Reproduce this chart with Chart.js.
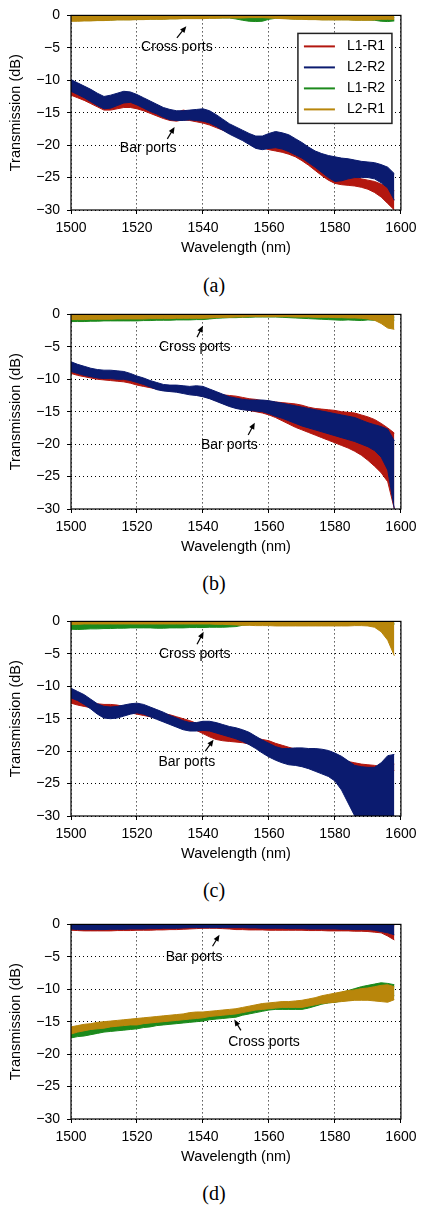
<!DOCTYPE html>
<html><head><meta charset="utf-8">
<script src="https://cdn.jsdelivr.net/npm/chart.js@4.4.1/dist/chart.umd.min.js"></script>
<style>
html,body{margin:0;padding:0;background:#fff}
body{width:422px;height:1205px;position:relative;overflow:hidden}
.pane{position:absolute;left:0;width:422px;height:260px}
.cap{position:absolute;left:0;width:428px;text-align:center;font-family:'Liberation Serif','Times New Roman',serif;font-size:20px;line-height:24px;color:#000}
</style></head><body>
<div class="pane" style="top:0px"><canvas id="ca" width="422" height="260"></canvas></div>
<div class="pane" style="top:299px"><canvas id="cb" width="422" height="260"></canvas></div>
<div class="pane" style="top:606px"><canvas id="cc" width="422" height="260"></canvas></div>
<div class="pane" style="top:909px"><canvas id="cd" width="422" height="260"></canvas></div>
<div class="cap" id="capa" style="top:273px"></div>
<div class="cap" id="capb" style="top:571px"></div>
<div class="cap" id="capc" style="top:878px"></div>
<div class="cap" id="capd" style="top:1181px"></div>
<script>
// ---------- data ----------
const WAVELENGTH = [1500,1502,1504,1506,1508,1510,1512,1514,1516,1518,1520,1522,1524,1526,1528,1530,1532,1534,1536,1538,1540,1542,1544,1546,1548,1550,1552,1554,1556,1558,1560,1562,1564,1566,1568,1570,1572,1574,1576,1578,1580,1582,1584,1586,1588,1590,1592,1594,1596,1598];
const X_TICKS = [1500,1520,1540,1560,1580,1600];
const Y_TICKS = [0,-5,-10,-15,-20,-25,-30];
const SERIES_LABELS = ['L1-R1','L2-R2','L1-R2','L2-R1'];
const PANEL_LABELS = ['(a)','(b)','(c)','(d)'];
const X_TITLE = 'Wavelength (nm)';
const Y_TITLE = 'Transmission (dB)';
const NOTE_CROSS = 'Cross ports';
const NOTE_BAR = 'Bar ports';

// Each trace is a noisy band: upper (Hi) and lower (Lo) envelopes in dB.
// Panel (a)
const aL1R1Hi = [-11.3,-11.7,-12.1,-12.6,-13.1,-13.6,-13.6,-13.4,-13.2,-13.3,-13.6,-14.0,-14.4,-14.8,-15.1,-15.2,-15.0,-14.6,-14.8,-15.2,-15.5,-15.8,-16.3,-16.8,-17.3,-17.8,-18.2,-18.7,-19.2,-19.4,-19.6,-19.8,-20.1,-20.4,-20.8,-21.3,-21.9,-22.6,-23.3,-23.9,-24.3,-24.5,-24.7,-24.9,-25.2,-25.4,-25.6,-26.0,-26.4,-27.0];
const aL1R1Lo = [-12.3,-12.7,-13.1,-13.6,-14.1,-14.6,-14.6,-14.4,-14.2,-14.2,-14.4,-14.7,-15.1,-15.5,-15.9,-16.2,-16.3,-16.1,-16.2,-16.4,-16.6,-16.9,-17.3,-17.7,-18.1,-18.5,-19.0,-19.6,-20.1,-20.4,-20.7,-20.9,-21.1,-21.4,-21.8,-22.4,-23.1,-23.9,-24.7,-25.4,-25.9,-26.1,-26.2,-26.3,-26.5,-26.8,-27.3,-28.0,-29.0,-30.0];
const aL2R2Hi = [-9.9,-10.4,-10.9,-11.4,-12.0,-12.5,-12.3,-12.0,-11.7,-11.8,-12.2,-12.7,-13.2,-13.7,-14.2,-14.5,-14.7,-14.7,-14.6,-14.5,-14.4,-14.7,-15.3,-16.0,-16.7,-17.2,-17.7,-18.2,-18.6,-18.6,-18.2,-17.9,-18.1,-18.4,-19.0,-19.6,-20.3,-20.9,-21.3,-21.6,-21.8,-22.0,-22.1,-22.3,-22.5,-22.6,-22.7,-23.0,-23.4,-24.4];
const aL2R2Lo = [-11.7,-12.2,-12.7,-13.3,-13.9,-14.4,-14.3,-13.9,-13.5,-13.4,-13.8,-14.3,-14.8,-15.2,-15.7,-16.1,-16.2,-16.2,-16.1,-16.2,-16.3,-16.6,-17.1,-17.7,-18.3,-18.8,-19.3,-19.9,-20.5,-20.7,-20.5,-20.4,-20.6,-21.0,-21.5,-22.0,-22.7,-23.4,-24.2,-25.0,-25.6,-25.5,-25.2,-25.0,-25.0,-25.0,-25.2,-25.8,-26.6,-28.5];
const aL1R2Hi = [-0.2,-0.2,-0.25,-0.2,-0.2,-0.25,-0.2,-0.2,-0.2,-0.2,-0.2,-0.2,-0.2,-0.15,-0.15,-0.15,-0.15,-0.15,-0.15,-0.15,-0.15,-0.15,-0.15,-0.2,-0.2,-0.25,-0.3,-0.35,-0.4,-0.35,-0.25,-0.2,-0.15,-0.15,-0.15,-0.15,-0.2,-0.2,-0.2,-0.2,-0.2,-0.2,-0.2,-0.2,-0.2,-0.25,-0.3,-0.3,-0.3,-0.3];
const aL1R2Lo = [-0.8,-0.8,-0.8,-0.8,-0.75,-0.75,-0.7,-0.65,-0.65,-0.65,-0.6,-0.6,-0.55,-0.55,-0.55,-0.5,-0.5,-0.45,-0.45,-0.45,-0.45,-0.4,-0.4,-0.4,-0.4,-0.55,-0.75,-0.9,-0.95,-0.9,-0.6,-0.45,-0.45,-0.5,-0.55,-0.55,-0.6,-0.6,-0.65,-0.65,-0.65,-0.65,-0.65,-0.7,-0.7,-0.7,-0.75,-0.9,-0.95,-0.85];
const aL2R1Hi = [-0.1,-0.05,-0.1,-0.05,-0.05,-0.05,-0.05,-0.05,-0.05,-0.05,-0.05,-0.05,-0.05,-0.05,-0.05,-0.05,-0.05,-0.05,-0.05,-0.05,-0.05,-0.05,-0.05,-0.05,-0.05,-0.05,-0.05,-0.05,-0.1,-0.05,-0.05,-0.05,-0.05,-0.05,-0.05,-0.05,-0.05,-0.05,-0.05,-0.05,-0.05,-0.05,-0.05,-0.05,-0.05,-0.05,-0.05,-0.05,-0.05,-0.05];
const aL2R1Lo = [-0.9,-0.9,-0.85,-0.85,-0.8,-0.8,-0.75,-0.7,-0.7,-0.7,-0.65,-0.65,-0.6,-0.6,-0.6,-0.55,-0.55,-0.5,-0.5,-0.5,-0.5,-0.45,-0.45,-0.4,-0.4,-0.4,-0.4,-0.35,-0.35,-0.35,-0.4,-0.45,-0.5,-0.55,-0.6,-0.6,-0.65,-0.65,-0.7,-0.7,-0.7,-0.7,-0.7,-0.75,-0.75,-0.75,-0.7,-0.6,-0.6,-0.6];
// Panel (b)
const bL1R1Hi = [-8.2,-8.5,-8.8,-9.0,-9.2,-9.3,-9.4,-9.6,-9.7,-9.9,-10.1,-10.4,-10.7,-10.9,-11.0,-11.0,-11.1,-11.2,-11.4,-11.6,-11.9,-12.1,-12.3,-12.4,-12.5,-12.6,-12.8,-13.0,-13.1,-13.3,-13.4,-13.5,-13.6,-13.7,-13.8,-14.0,-14.3,-14.5,-14.6,-14.7,-14.8,-15.0,-15.1,-15.2,-15.5,-15.8,-16.2,-16.8,-17.5,-18.3];
const bL1R1Lo = [-9.1,-9.4,-9.6,-9.8,-10.0,-10.1,-10.2,-10.3,-10.4,-10.6,-10.9,-11.1,-11.3,-11.5,-11.7,-11.8,-11.9,-12.0,-12.2,-12.4,-12.6,-12.9,-13.3,-13.7,-14.1,-14.4,-14.6,-14.8,-15.0,-15.2,-15.5,-15.9,-16.4,-16.9,-17.4,-17.8,-18.2,-18.6,-19.0,-19.4,-19.8,-20.2,-20.6,-21.1,-21.7,-22.5,-23.4,-24.4,-25.8,-30.0];
const bL2R2Hi = [-7.3,-7.7,-8.0,-8.3,-8.5,-8.6,-8.6,-8.7,-8.8,-9.1,-9.5,-9.8,-10.2,-10.5,-10.8,-10.9,-10.9,-11.0,-11.1,-11.0,-11.1,-11.5,-11.9,-12.3,-12.7,-12.9,-13.1,-13.2,-13.2,-13.2,-13.3,-13.5,-13.7,-13.9,-14.1,-14.3,-14.5,-14.7,-14.9,-15.1,-15.3,-15.5,-15.7,-15.9,-16.3,-16.7,-17.0,-17.3,-17.7,-19.5];
const bL2R2Lo = [-8.8,-9.1,-9.4,-9.6,-9.8,-9.9,-9.9,-10.0,-10.0,-10.2,-10.5,-10.8,-11.2,-11.6,-11.8,-11.9,-12.0,-12.2,-12.4,-12.5,-12.7,-13.0,-13.4,-13.8,-14.2,-14.5,-14.7,-14.8,-14.9,-15.0,-15.3,-15.7,-16.0,-16.4,-16.8,-17.2,-17.5,-17.8,-18.1,-18.4,-18.7,-19.0,-19.3,-19.6,-20.0,-20.4,-21.0,-22.0,-24.0,-30.0];
const bL1R2Hi = [-0.3,-0.3,-0.3,-0.3,-0.3,-0.3,-0.3,-0.3,-0.3,-0.3,-0.3,-0.3,-0.3,-0.3,-0.3,-0.3,-0.3,-0.3,-0.3,-0.3,-0.3,-0.25,-0.25,-0.2,-0.2,-0.2,-0.2,-0.2,-0.2,-0.2,-0.2,-0.2,-0.2,-0.2,-0.2,-0.25,-0.25,-0.3,-0.3,-0.3,-0.3,-0.35,-0.3,-0.35,-0.35,-0.3,-0.35,-0.4,-0.4,-0.4];
const bL1R2Lo = [-1.1,-1.1,-1.1,-1.05,-1.05,-1.0,-1.0,-1.0,-1.0,-1.0,-1.0,-0.95,-0.95,-0.9,-0.9,-0.9,-0.85,-0.85,-0.85,-0.8,-0.8,-0.7,-0.6,-0.55,-0.5,-0.5,-0.45,-0.45,-0.4,-0.4,-0.4,-0.4,-0.45,-0.5,-0.55,-0.6,-0.65,-0.7,-0.75,-0.8,-0.85,-0.9,-0.85,-0.9,-0.95,-0.85,-0.9,-1.0,-1.0,-0.9];
const bL2R1Hi = [-0.05,-0.05,-0.05,-0.05,-0.05,-0.05,-0.05,-0.05,-0.05,-0.05,-0.05,-0.05,-0.05,-0.05,-0.05,-0.05,-0.05,-0.05,-0.05,-0.05,-0.05,-0.05,-0.05,-0.05,-0.05,-0.05,-0.05,-0.05,-0.05,-0.05,-0.05,-0.05,-0.05,-0.05,-0.05,-0.05,-0.05,-0.05,-0.05,-0.05,-0.05,-0.05,-0.05,-0.05,-0.05,-0.05,-0.05,-0.05,-0.05,-0.05];
const bL2R1Lo = [-0.8,-0.8,-0.8,-0.75,-0.75,-0.75,-0.75,-0.7,-0.7,-0.7,-0.7,-0.7,-0.65,-0.65,-0.65,-0.65,-0.6,-0.6,-0.6,-0.6,-0.6,-0.55,-0.5,-0.45,-0.45,-0.4,-0.4,-0.35,-0.35,-0.35,-0.35,-0.35,-0.35,-0.35,-0.4,-0.4,-0.4,-0.45,-0.45,-0.45,-0.5,-0.5,-0.55,-0.55,-0.6,-0.7,-0.9,-1.4,-2.1,-2.3];
// Panel (c)
const cL1R1Hi = [-11.8,-12.1,-12.4,-12.6,-12.7,-12.8,-12.8,-12.9,-13.1,-13.3,-13.5,-13.7,-13.9,-14.1,-14.2,-14.4,-14.7,-15.0,-15.3,-15.7,-16.1,-16.5,-16.9,-17.1,-17.3,-17.4,-17.6,-17.8,-18.0,-18.2,-18.4,-18.8,-19.1,-19.4,-19.7,-20.0,-20.3,-20.6,-20.8,-21.0,-21.2,-21.4,-21.6,-21.8,-22.0,-22.1,-22.2,-22.4,-22.3,-22.0];
const cL1R1Lo = [-12.6,-12.9,-13.1,-13.3,-13.4,-13.5,-13.6,-13.7,-13.9,-14.1,-14.3,-14.5,-14.7,-14.9,-15.1,-15.3,-15.6,-15.9,-16.3,-16.8,-17.3,-17.8,-18.2,-18.4,-18.5,-18.6,-18.7,-18.9,-19.1,-19.4,-19.8,-20.2,-20.5,-20.8,-21.1,-21.4,-21.7,-22.0,-22.2,-22.4,-22.6,-22.8,-23.0,-23.1,-23.2,-23.4,-23.5,-23.8,-23.4,-23.0];
const cL2R2Hi = [-10.3,-10.8,-11.3,-12.0,-12.7,-13.1,-13.2,-13.1,-12.9,-12.7,-12.6,-12.8,-13.2,-13.6,-14.0,-14.5,-14.9,-15.3,-15.6,-15.6,-15.4,-15.4,-15.6,-15.9,-16.2,-16.4,-16.7,-17.1,-17.7,-18.3,-18.8,-19.3,-19.6,-19.6,-19.5,-19.5,-19.6,-19.6,-19.7,-19.9,-20.3,-20.8,-21.5,-22.2,-22.4,-22.5,-22.5,-21.8,-20.7,-20.5];
const cL2R2Lo = [-11.8,-12.2,-12.8,-13.5,-14.3,-14.9,-15.0,-14.9,-14.6,-14.3,-14.1,-14.3,-14.7,-15.1,-15.5,-15.9,-16.3,-16.7,-16.9,-16.9,-16.8,-16.9,-17.2,-17.5,-17.8,-18.1,-18.5,-19.0,-19.6,-20.3,-20.9,-21.4,-21.8,-22.1,-22.2,-22.4,-22.7,-23.1,-23.5,-23.9,-24.6,-26.0,-28.0,-30.0,-30.0,-30.0,-30.0,-30.0,-30.0,-30.0];
const cL1R2Hi = [-0.35,-0.35,-0.35,-0.35,-0.35,-0.35,-0.35,-0.35,-0.35,-0.35,-0.35,-0.35,-0.35,-0.35,-0.35,-0.35,-0.35,-0.35,-0.35,-0.35,-0.35,-0.35,-0.35,-0.35,-0.35,-0.35,-0.3,-0.3,-0.3,-0.3,-0.3,-0.3,-0.3,-0.3,-0.3,-0.3,-0.3,-0.3,-0.3,-0.3,-0.3,-0.3,-0.3,-0.3,-0.3,-0.3,-0.3,-0.3,-0.3,-0.3];
const cL1R2Lo = [-1.2,-1.25,-1.2,-1.15,-1.15,-1.1,-1.1,-1.05,-1.05,-1.0,-1.0,-1.0,-1.0,-1.05,-1.05,-1.0,-1.0,-1.0,-0.95,-0.95,-0.95,-0.9,-0.9,-0.9,-0.85,-0.8,-0.6,-0.5,-0.45,-0.45,-0.45,-0.45,-0.45,-0.45,-0.45,-0.45,-0.45,-0.45,-0.45,-0.45,-0.45,-0.45,-0.45,-0.45,-0.45,-0.45,-0.45,-0.45,-0.45,-0.45];
const cL2R1Hi = [-0.05,-0.05,-0.05,-0.05,-0.05,-0.05,-0.05,-0.05,-0.05,-0.05,-0.05,-0.05,-0.05,-0.05,-0.05,-0.05,-0.05,-0.05,-0.05,-0.05,-0.05,-0.05,-0.05,-0.05,-0.05,-0.05,-0.05,-0.05,-0.05,-0.05,-0.05,-0.05,-0.05,-0.05,-0.05,-0.05,-0.05,-0.05,-0.05,-0.05,-0.05,-0.05,-0.05,-0.05,-0.05,-0.05,-0.05,-0.05,-0.05,-0.05];
const cL2R1Lo = [-0.45,-0.45,-0.4,-0.4,-0.4,-0.4,-0.4,-0.4,-0.4,-0.4,-0.4,-0.4,-0.4,-0.4,-0.4,-0.4,-0.4,-0.4,-0.4,-0.4,-0.4,-0.4,-0.45,-0.45,-0.5,-0.55,-0.6,-0.6,-0.65,-0.65,-0.65,-0.7,-0.7,-0.7,-0.7,-0.7,-0.7,-0.7,-0.7,-0.7,-0.7,-0.7,-0.7,-0.65,-0.65,-0.7,-0.9,-1.6,-2.9,-5.3];
// Panel (d)
const dL1R1Hi = [-0.2,-0.2,-0.2,-0.2,-0.2,-0.2,-0.2,-0.2,-0.2,-0.2,-0.2,-0.2,-0.2,-0.2,-0.2,-0.2,-0.2,-0.2,-0.2,-0.2,-0.25,-0.25,-0.25,-0.2,-0.2,-0.2,-0.2,-0.2,-0.2,-0.2,-0.2,-0.2,-0.2,-0.2,-0.2,-0.2,-0.2,-0.2,-0.2,-0.2,-0.2,-0.2,-0.2,-0.2,-0.2,-0.2,-0.2,-0.2,-0.2,-0.2];
const dL1R1Lo = [-0.9,-0.95,-1.0,-1.0,-1.0,-1.0,-1.0,-0.95,-0.95,-0.95,-0.9,-0.9,-0.9,-0.85,-0.85,-0.8,-0.8,-0.75,-0.7,-0.65,-0.6,-0.6,-0.6,-0.65,-0.7,-0.8,-0.8,-0.85,-0.85,-0.85,-0.9,-0.9,-0.9,-0.9,-0.9,-0.9,-0.95,-0.95,-0.95,-1.0,-1.0,-1.0,-1.0,-1.05,-1.05,-1.1,-1.2,-1.3,-1.8,-2.4];
const dL2R2Hi = [-0.05,-0.05,-0.05,-0.05,-0.05,-0.05,-0.05,-0.05,-0.05,-0.05,-0.05,-0.05,-0.05,-0.05,-0.05,-0.05,-0.05,-0.05,-0.05,-0.05,-0.05,-0.05,-0.05,-0.05,-0.05,-0.05,-0.05,-0.05,-0.05,-0.05,-0.05,-0.05,-0.05,-0.05,-0.05,-0.05,-0.05,-0.05,-0.05,-0.05,-0.05,-0.05,-0.05,-0.05,-0.05,-0.05,-0.05,-0.05,-0.05,-0.05];
const dL2R2Lo = [-0.7,-0.8,-0.8,-0.8,-0.8,-0.8,-0.75,-0.75,-0.75,-0.7,-0.7,-0.7,-0.65,-0.65,-0.6,-0.6,-0.6,-0.55,-0.5,-0.5,-0.5,-0.5,-0.5,-0.5,-0.5,-0.5,-0.5,-0.55,-0.55,-0.6,-0.6,-0.6,-0.6,-0.65,-0.65,-0.65,-0.7,-0.7,-0.7,-0.7,-0.7,-0.75,-0.75,-0.8,-0.8,-0.8,-0.9,-1.1,-1.3,-1.6];
const dL1R2Hi = [-16.8,-16.6,-16.4,-16.2,-16.0,-15.9,-15.7,-15.6,-15.5,-15.4,-15.3,-15.1,-15.0,-14.9,-14.8,-14.7,-14.6,-14.4,-14.3,-14.2,-14.1,-14.0,-13.9,-13.8,-13.7,-13.6,-13.4,-13.2,-13.0,-12.8,-12.6,-12.5,-12.4,-12.4,-12.3,-12.3,-12.1,-11.8,-11.5,-11.1,-10.8,-10.5,-10.2,-9.9,-9.6,-9.4,-9.2,-9.0,-9.1,-9.3];
const dL1R2Lo = [-17.5,-17.3,-17.2,-17.0,-16.8,-16.6,-16.5,-16.4,-16.3,-16.2,-16.1,-15.9,-15.8,-15.6,-15.5,-15.4,-15.3,-15.2,-15.1,-15.0,-14.9,-14.7,-14.6,-14.5,-14.4,-14.3,-14.0,-13.8,-13.6,-13.4,-13.2,-13.1,-13.1,-13.1,-13.1,-13.1,-12.9,-12.6,-12.3,-12.1,-12.0,-11.8,-11.7,-11.6,-11.5,-11.5,-11.4,-11.3,-11.2,-11.0];
const dL2R1Hi = [-15.8,-15.6,-15.4,-15.3,-15.1,-15.0,-14.9,-14.8,-14.7,-14.6,-14.5,-14.4,-14.3,-14.2,-14.1,-14.0,-13.9,-13.8,-13.6,-13.5,-13.5,-13.4,-13.3,-13.2,-13.1,-13.0,-12.8,-12.6,-12.4,-12.2,-12.1,-12.0,-11.9,-11.9,-11.8,-11.7,-11.5,-11.3,-11.0,-10.8,-10.6,-10.4,-10.2,-10.1,-9.9,-9.8,-9.6,-9.4,-9.3,-9.6];
const dL2R1Lo = [-16.9,-16.6,-16.4,-16.2,-16.1,-16.0,-15.8,-15.7,-15.6,-15.5,-15.5,-15.3,-15.2,-15.1,-15.0,-14.9,-14.8,-14.7,-14.6,-14.5,-14.4,-14.2,-14.1,-14.0,-13.9,-13.8,-13.6,-13.4,-13.2,-13.1,-13.0,-12.9,-12.8,-12.8,-12.8,-12.8,-12.6,-12.4,-12.2,-12.1,-12.0,-11.9,-11.8,-11.7,-11.7,-11.7,-11.8,-11.9,-12.0,-11.6];

// ---------- styling / layout ----------
const FONT = "'Liberation Sans', Arial, Helvetica, sans-serif";
const COLORS = ['#b3170f', '#0b1b6f', '#1c8a1c', '#b8860b'];
const ORDERS = [4, 3, 2, 1]; // later series drawn on top

// annotation positions in data units: text centre, arrow tail, arrow tip
const NOTES_A = [
  {text: NOTE_CROSS, at: [1532.1, -4.82], tail: [1532.1, -3.47], tip: [1534.95, -1.66]},
  {text: NOTE_BAR, at: [1523.4, -20.46], tail: [1529.2, -19.04], tip: [1531.4, -17.19]}
];
const NOTES_B = [
  {text: NOTE_CROSS, at: [1537.5, -5.01], tail: [1538.2, -3.50], tip: [1540.0, -1.76]},
  {text: NOTE_BAR, at: [1548.0, -20.2], tail: [1553.7, -18.59], tip: [1555.7, -16.69]}
];
const NOTES_C = [
  {text: NOTE_CROSS, at: [1537.5, -5.02], tail: [1538.2, -3.51], tip: [1540.2, -1.61]},
  {text: NOTE_BAR, at: [1535.1, -21.71], tail: [1540.7, -20.0], tip: [1543.2, -18.24]}
];
const NOTES_D = [
  {text: NOTE_BAR, at: [1537.3, -5.02], tail: [1542.9, -3.36], tip: [1545.0, -1.61]},
  {text: NOTE_CROSS, at: [1558.5, -18.09], tail: [1551.5, -16.33], tip: [1549.5, -14.67]}
];

function drawArrow(ctx, x1, y1, x2, y2) {
  const a = Math.atan2(y2 - y1, x2 - x1);
  const L = 6.5, H = 2.8;
  ctx.beginPath();
  ctx.moveTo(x1, y1);
  ctx.lineTo(x2 - L * 0.7 * Math.cos(a), y2 - L * 0.7 * Math.sin(a));
  ctx.stroke();
  ctx.beginPath();
  ctx.moveTo(x2, y2);
  ctx.lineTo(x2 - L * Math.cos(a) + H * Math.sin(a), y2 - L * Math.sin(a) - H * Math.cos(a));
  ctx.lineTo(x2 - L * Math.cos(a) - H * Math.sin(a), y2 - L * Math.sin(a) + H * Math.cos(a));
  ctx.closePath();
  ctx.fill();
}

function overlayPlugin(notes, withLegend) {
  return {
    id: 'overlay',
    afterDraw(chart) {
      const ctx = chart.ctx, ca = chart.chartArea;
      const xs = chart.scales.x, ys = chart.scales.y;
      ctx.save();
      // axes frame
      ctx.strokeStyle = '#000';
      ctx.lineWidth = 1.2;
      ctx.setLineDash([]);
      ctx.strokeRect(ca.left, ca.top, ca.right - ca.left, ca.bottom - ca.top);
      // annotations
      ctx.fillStyle = '#000';
      ctx.font = '14px ' + FONT;
      ctx.textAlign = 'center';
      ctx.textBaseline = 'middle';
      notes.forEach(n => {
        ctx.fillText(n.text, xs.getPixelForValue(n.at[0]), ys.getPixelForValue(n.at[1]));
        ctx.lineWidth = 1.2;
        drawArrow(ctx, xs.getPixelForValue(n.tail[0]), ys.getPixelForValue(n.tail[1]),
                  xs.getPixelForValue(n.tip[0]), ys.getPixelForValue(n.tip[1]));
      });
      // legend
      if (withLegend) {
        const bx = ca.right - 103, by = ca.top + 18, bw = 94, bh = 90;
        ctx.fillStyle = '#fff';
        ctx.fillRect(bx, by, bw, bh);
        ctx.strokeStyle = '#222';
        ctx.lineWidth = 1.5;
        ctx.strokeRect(bx, by, bw, bh);
        ctx.textAlign = 'left';
        SERIES_LABELS.forEach((lab, k) => {
          const yy = by + 13 + k * 21;
          ctx.strokeStyle = COLORS[k];
          ctx.lineWidth = 2;
          ctx.beginPath();
          ctx.moveTo(bx + 6, yy);
          ctx.lineTo(bx + 37, yy);
          ctx.stroke();
          ctx.fillStyle = '#000';
          ctx.fillText(lab, bx + 49, yy);
        });
      }
      ctx.restore();
    }
  };
}

function makePanel(id, his, los, notes, withLegend) {
  const datasets = [];
  SERIES_LABELS.forEach((lab, k) => {
    datasets.push({
      label: lab, data: WAVELENGTH.map((w, i) => ({x: w, y: his[k][i]})),
      borderColor: COLORS[k], backgroundColor: COLORS[k], borderWidth: 1,
      pointRadius: 0, fill: '+1', order: ORDERS[k], tension: 0
    });
    datasets.push({
      label: lab + ' (lower)', data: WAVELENGTH.map((w, i) => ({x: w, y: los[k][i]})),
      borderColor: COLORS[k], backgroundColor: COLORS[k], borderWidth: 1,
      pointRadius: 0, fill: false, order: ORDERS[k], tension: 0
    });
  });
  const gridOpts = {color: '#000', lineWidth: 1, tickLength: 4, tickColor: '#000', tickWidth: 1, tickBorderDash: []};
  const borderOpts = {display: false, dash: [1, 3]};
  new Chart(document.getElementById(id), {
    type: 'line',
    data: {datasets},
    options: {
      responsive: false, animation: false, devicePixelRatio: 1, events: [],
      layout: {padding: {top: 11, right: 18, bottom: 3.3, left: 0}},
      plugins: {legend: {display: false}, tooltip: {enabled: false}},
      scales: {
        x: {
          type: 'linear', min: 1500, max: 1600,
          afterBuildTicks: s => { s.ticks = X_TICKS.map(v => ({value: v})); },
          afterFit: s => { s.height = 46.7; },
          ticks: {font: {family: FONT, size: 14}, color: '#000', padding: 5.5, maxRotation: 0, autoSkip: false, callback: v => String(v)},
          grid: gridOpts, border: borderOpts,
          title: {display: true, text: X_TITLE, color: '#000', font: {family: FONT, size: 14.5}, padding: {top: 0, bottom: 0}}
        },
        y: {
          type: 'linear', min: -30, max: 0,
          afterBuildTicks: s => { s.ticks = Y_TICKS.map(v => ({value: v})); },
          afterFit: s => { s.width = 71; },
          ticks: {font: {family: FONT, size: 14}, color: '#000', padding: 7, autoSkip: false, callback: v => (v < 0 ? '\u2212' + (-v) : String(v))},
          grid: gridOpts, border: borderOpts,
          title: {display: true, text: Y_TITLE, color: '#000', font: {family: FONT, size: 14.5}, padding: {top: 7, bottom: 0}}
        }
      }
    },
    plugins: [overlayPlugin(notes, withLegend)]
  });
}

makePanel('ca', [aL1R1Hi, aL2R2Hi, aL1R2Hi, aL2R1Hi], [aL1R1Lo, aL2R2Lo, aL1R2Lo, aL2R1Lo], NOTES_A, true);
makePanel('cb', [bL1R1Hi, bL2R2Hi, bL1R2Hi, bL2R1Hi], [bL1R1Lo, bL2R2Lo, bL1R2Lo, bL2R1Lo], NOTES_B, false);
makePanel('cc', [cL1R1Hi, cL2R2Hi, cL1R2Hi, cL2R1Hi], [cL1R1Lo, cL2R2Lo, cL1R2Lo, cL2R1Lo], NOTES_C, false);
makePanel('cd', [dL1R1Hi, dL2R2Hi, dL1R2Hi, dL2R1Hi], [dL1R1Lo, dL2R2Lo, dL1R2Lo, dL2R1Lo], NOTES_D, false);

['capa', 'capb', 'capc', 'capd'].forEach((id, i) => { document.getElementById(id).textContent = PANEL_LABELS[i]; });
</script>
</body></html>
